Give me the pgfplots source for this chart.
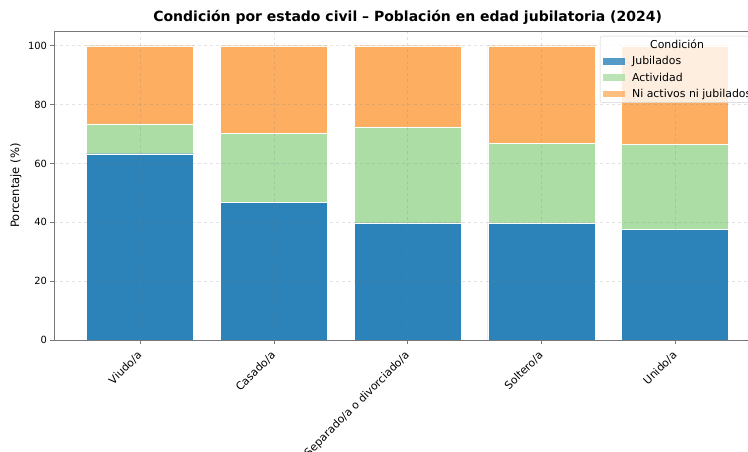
\documentclass[border=0pt]{standalone}
\usepackage{fontspec}
\setmainfont{DejaVu Sans}
\usepackage{pgfplots}
\usepackage{pgfplotstable}
\pgfplotsset{compat=1.18}
\definecolor{cjub}{HTML}{2B83BA}
\definecolor{cact}{HTML}{ABDDA4}
\definecolor{cni}{HTML}{FDAE61}
\definecolor{spine}{HTML}{777777}

\pgfplotstableread{
x jub act ni
0 63.3 10.1 26.6
1 46.7 23.6 29.7
2 39.8 32.6 27.6
3 39.7 27.1 33.2
4 37.7 28.9 33.4
}\datatable

\begin{document}
\begin{tikzpicture}
\begin{axis}[
  at={(0pt,0pt)}, anchor=south west,
  scale only axis, width=707.2pt, height=309pt,
  ybar stacked, bar width=107pt,
  xmin=-0.643, xmax=4.643, ymin=0, ymax=105,
  xtick={0,1,2,3,4},
  xticklabels={Viudo/a,Casado/a,Separado/a o divorciado/a,Soltero/a,Unido/a},
  ytick={0,20,40,60,80,100},
  xticklabel style={rotate=45, anchor=north east, font=\fontsize{10.9}{12}\selectfont, inner sep=2pt, xshift=-5pt},
  yticklabel style={font=\fontsize{9.9}{11}\selectfont},
  /pgf/number format/assume math mode=true,
  tick align=outside, major tick length=3.5pt,
  tick style={spine, line width=0.6pt},
  xtick pos=bottom, ytick pos=left,
  axis line style={spine, line width=0.8pt},
  grid=major,
  major grid style={dashed, gray, opacity=0.22, line width=0.5pt},
  axis on top,
  ylabel={Porcentaje (\%)},
  ylabel style={font=\fontsize{11.5}{13}\selectfont, at={(axis description cs:-0.041,0.5)}},
  title={\bfseries Condición por estado civil – Población en edad jubilatoria (2024)},
  title style={font=\fontsize{14}{16}\selectfont, at={(axis description cs:0.5,1.0)}, anchor=south, yshift=-3pt},
  legend cell align=left,
  legend style={at={(0.772,0.984)}, anchor=north west, draw=gray!35, fill=white, fill opacity=0.8, text opacity=1, draw opacity=1, rounded corners=2pt, font=\fontsize{10.9}{12}\selectfont, row sep=2.3pt, inner xsep=3pt, inner ysep=2pt,
    /tikz/every odd column/.append style={column sep=5pt}},
  legend image code/.code={\fill[#1, sharp corners, draw=none] (0pt,-3.2pt) rectangle (22pt,3.2pt);},
  every axis plot/.append style={draw=white, line width=0.4pt},
]
\addlegendimage{empty legend}
\addlegendentry{\hspace*{18pt}Condición}
\addplot[fill=cjub] table[x=x,y=jub]{\datatable};
\addlegendentry{Jubilados}
\addplot[fill=cact] table[x=x,y=act]{\datatable};
\addlegendentry{Actividad}
\addplot[fill=cni] table[x=x,y=ni]{\datatable};
\addlegendentry{Ni activos ni jubilados}
\end{axis}
\pgfresetboundingbox
\path[use as bounding box] (-54pt,-111pt) rectangle (694pt,340pt);
\end{tikzpicture}
\end{document}
